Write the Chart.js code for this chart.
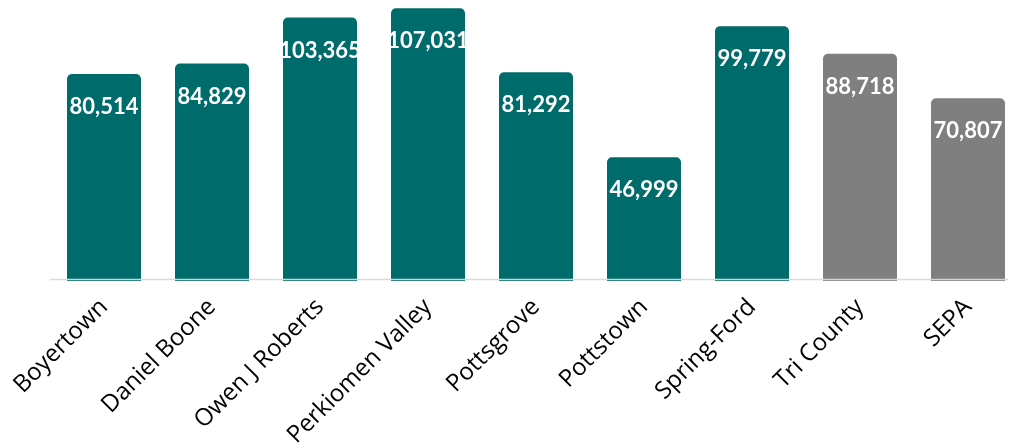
<!DOCTYPE html>
<html>
<head>
<meta charset="utf-8">
<script src="https://cdn.jsdelivr.net/npm/chart.js@4.4.1/dist/chart.umd.min.js"></script>
<style>
  html, body { margin: 0; padding: 0; background: #fff; overflow: hidden; }
  #wrap { width: 1030px; height: 448px; }
</style>
</head>
<body>
<div id="wrap"><canvas id="incomeChart"></canvas></div>
<script>
// median household income by district
const districts = ['Boyertown', 'Daniel Boone', 'Owen J Roberts', 'Perkiomen Valley', 'Pottsgrove', 'Pottstown', 'Spring-Ford', 'Tri County', 'SEPA'];
const incomes = [80514, 84829, 103365, 107031, 81292, 46999, 99779, 88718, 70807];
const barColors = ['#006b6b', '#006b6b', '#006b6b', '#006b6b', '#006b6b', '#006b6b', '#006b6b', '#7f7f7f', '#7f7f7f'];

const Y_MIN = -2900;
const Y_MAX = 110400;

// white value labels inside the top of each bar, plus the light baseline
const barDecor = {
    id: 'barDecor',
    afterDatasetsDraw(chart) {
        const ctx = chart.ctx;
        const area = chart.chartArea;
        ctx.save();
        ctx.strokeStyle = 'rgba(217,217,217,0.95)';
        ctx.lineWidth = 1.5;
        ctx.beginPath();
        ctx.moveTo(area.left, area.bottom - 1.5);
        ctx.lineTo(1008, area.bottom - 1.5);
        ctx.stroke();

        ctx.fillStyle = '#ffffff';
        ctx.font = 'bold 22px Lato';
        ctx.textAlign = 'center';
        ctx.textBaseline = 'middle';
        chart.getDatasetMeta(0).data.forEach((bar, i) => {
            ctx.fillText(incomes[i].toLocaleString('en-US'), bar.x, bar.y + 33);
        });
        ctx.restore();
    }
};

new Chart(document.getElementById('incomeChart'), {
    type: 'bar',
    data: {
        labels: districts,
        datasets: [{
            data: incomes,
            backgroundColor: barColors,
            base: Y_MIN,
            borderRadius: 5,
            borderSkipped: 'start',
            categoryPercentage: 1,
            barPercentage: 0.685,
        }]
    },
    options: {
        responsive: true,
        maintainAspectRatio: false,
        animation: false,
        layout: { padding: { left: 50, right: 8, top: 0, bottom: 0 } },
        plugins: {
            legend: { display: false },
            tooltip: { enabled: false }
        },
        scales: {
            x: {
                grid: { display: false },
                border: { display: false },
                ticks: {
                    color: '#000000',
                    font: { family: "'Open Sans', sans-serif", size: 24 },
                    minRotation: 45,
                    maxRotation: 45,
                    padding: 4
                },
                afterFit(scale) {
                    scale.height = 167;
                    scale.paddingLeft = 0;
                    scale.paddingRight = 0;
                }
            },
            y: {
                display: false,
                min: Y_MIN,
                max: Y_MAX
            }
        }
    },
    plugins: [barDecor]
});
</script>
</body>
</html>
